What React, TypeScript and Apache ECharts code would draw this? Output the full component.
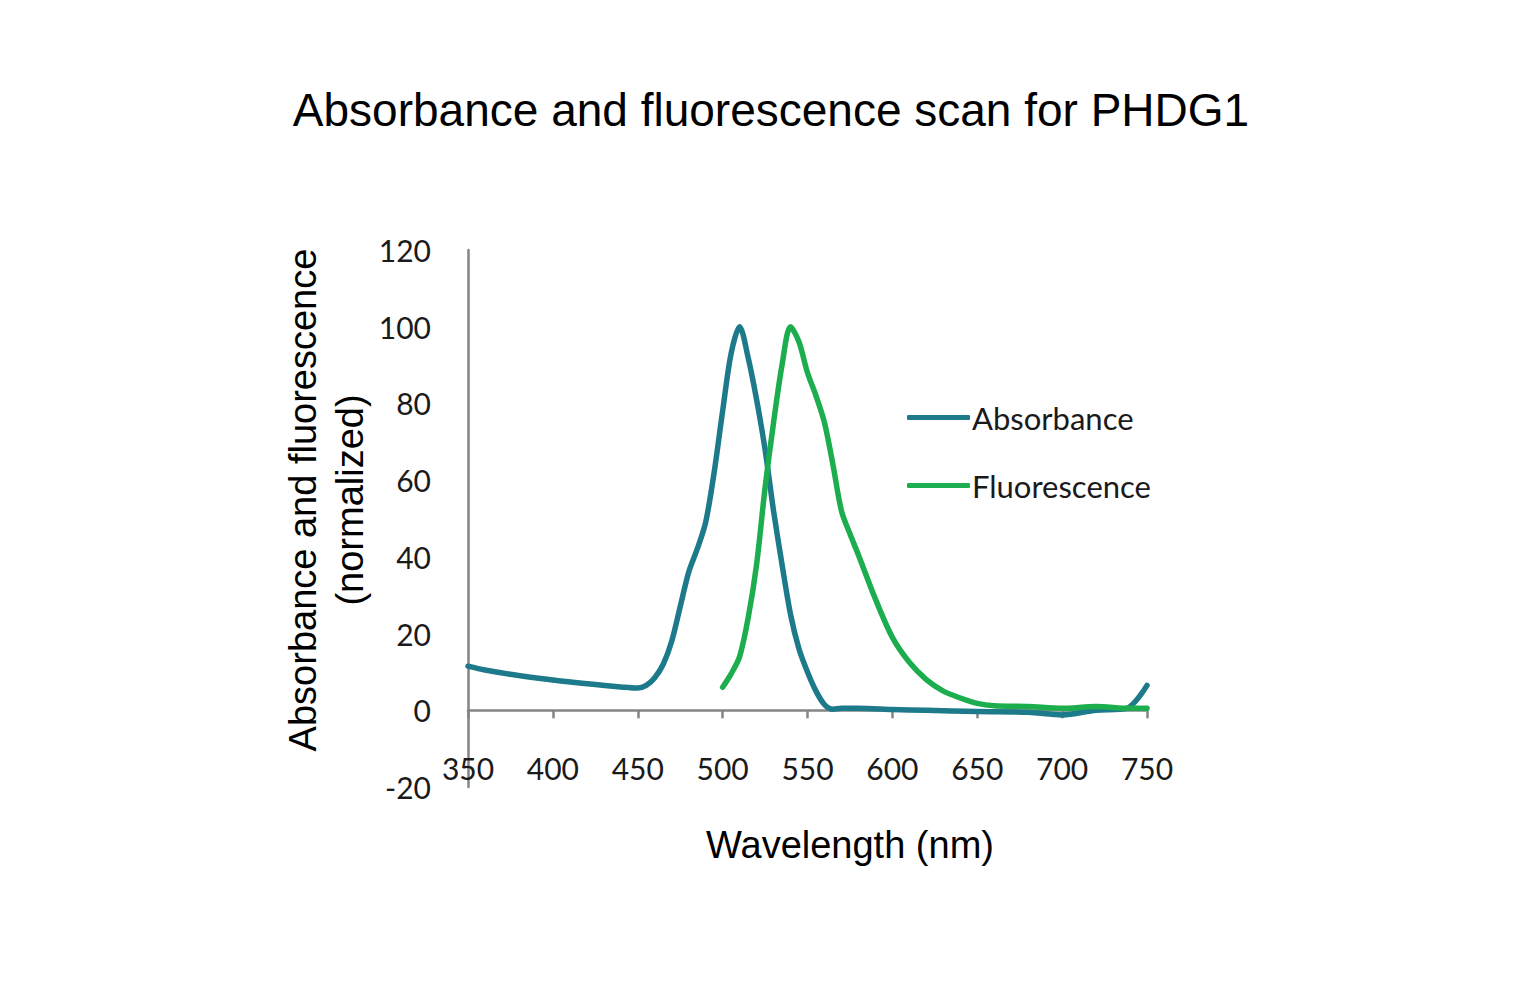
import { useEffect, useRef } from "react";
import * as echarts from "echarts";

// wavelength (nm) / normalized signal
const absorbanceX = [350, 360, 375, 400, 425, 440, 450, 455, 460, 465, 470, 475, 480, 485, 490, 495, 500, 505, 510, 515, 520, 525, 530, 535, 540, 545, 550, 555, 560, 565, 570, 580, 600, 620, 650, 680, 700, 720, 738, 750];
const absorbanceY = [11.5, 10.5, 9.4, 7.9, 6.7, 6.1, 5.8, 6.5, 8.5, 12, 18, 27, 36, 42, 49, 62, 78, 93, 100, 92, 81, 68, 52, 38, 25, 16, 10, 5, 1.5, 0.3, 0.5, 0.5, 0.2, 0, -0.3, -0.5, -1.2, 0, 0.5, 6.5];

const fluorescenceX = [500, 505, 510, 515, 520, 525, 530, 535, 540, 545, 550, 555, 560, 565, 570, 575, 580, 590, 600, 610, 620, 630, 640, 650, 660, 680, 700, 720, 740, 750];
const fluorescenceY = [6, 9.5, 14, 24, 38, 58, 75, 90, 100, 96, 88, 82, 75, 64, 52, 46, 40.5, 29, 19, 12.5, 8, 5, 3.2, 1.8, 1.2, 1, 0.5, 1, 0.5, 0.5];

const seriesNames = ["Absorbance", "Fluorescence"];
const seriesColors = ["#1d7a8a", "#1bad4e"];

const xTicks = { min: 350, max: 750, step: 50 };
const yTicks = { min: -20, max: 120, step: 20 };

const tickFont = "Lato";
const titleFont = "Liberation Sans";

export default function App() {
  const chartRef = useRef<HTMLDivElement>(null);

  useEffect(() => {
    if (!chartRef.current) return;
    const chart = echarts.init(chartRef.current, undefined, { renderer: "svg" });

    const pairs = (xs: number[], ys: number[]) => xs.map((x, i) => [x, ys[i]]);

    chart.setOption({
      animation: false,
      grid: { left: 468, right: 377, top: 250, bottom: 213, containLabel: false },
      legend: {
        orient: "vertical",
        left: 902,
        top: 397,
        itemWidth: 63,
        itemHeight: 5,
        itemGap: 37,
        icon: "roundRect",
        data: seriesNames,
        textStyle: { fontFamily: tickFont, fontSize: 31, color: "#1a1a1a", padding: [0, 0, 0, -3] },
      },
      xAxis: {
        type: "value",
        min: xTicks.min,
        max: xTicks.max,
        interval: xTicks.step,
        axisLine: { onZero: true, lineStyle: { color: "#858585", width: 2.5 } },
        axisTick: { show: true, length: 8, lineStyle: { color: "#858585", width: 2.5 } },
        // labels stay at the grid bottom (-20); pull them up under the zero line
        axisLabel: { margin: -34, fontFamily: tickFont, fontSize: 30, color: "#1a1a1a" },
        splitLine: { show: false },
      },
      yAxis: {
        type: "value",
        min: yTicks.min,
        max: yTicks.max,
        interval: yTicks.step,
        axisLine: { show: true, lineStyle: { color: "#858585", width: 2.5 } },
        axisTick: { show: false },
        axisLabel: { margin: 37, fontFamily: tickFont, fontSize: 30, color: "#1a1a1a" },
        splitLine: { show: false },
      },
      series: [
        {
          name: seriesNames[0],
          type: "line",
          data: pairs(absorbanceX, absorbanceY),
          smooth: 0.3,
          symbol: "none",
          color: seriesColors[0],
          lineStyle: { width: 5.5, color: seriesColors[0], cap: "round", join: "round" },
        },
        {
          name: seriesNames[1],
          type: "line",
          data: pairs(fluorescenceX, fluorescenceY),
          smooth: 0.3,
          symbol: "none",
          color: seriesColors[1],
          lineStyle: { width: 5.5, color: seriesColors[1], cap: "round", join: "round" },
        },
      ],
      graphic: [
        {
          type: "text",
          x: 771,
          y: 110,
          style: {
            text: "Absorbance and fluorescence scan for PHDG1",
            fontFamily: titleFont,
            fontSize: 46,
            fill: "#000",
            align: "center",
            verticalAlign: "middle",
            textAlign: "center",
            textVerticalAlign: "middle",
          },
        },
        {
          type: "text",
          x: 326,
          y: 500,
          rotation: Math.PI / 2,
          style: {
            text: "Absorbance and fluorescence\n(normalized)",
            fontFamily: titleFont,
            fontSize: 38,
            lineHeight: 47,
            fill: "#000",
            align: "center",
            verticalAlign: "middle",
            textAlign: "center",
            textVerticalAlign: "middle",
          },
        },
        {
          type: "text",
          x: 850,
          y: 845,
          style: {
            text: "Wavelength (nm)",
            fontFamily: titleFont,
            fontSize: 38,
            fill: "#000",
            align: "center",
            verticalAlign: "middle",
            textAlign: "center",
            textVerticalAlign: "middle",
          },
        },
      ],
    });

    return () => {
      chart.dispose();
    };
  }, []);

  return (
    <div
      ref={chartRef}
      style={{ position: "fixed", left: 0, top: 0, width: 1524, height: 1000, background: "#fff" }}
    />
  );
}
